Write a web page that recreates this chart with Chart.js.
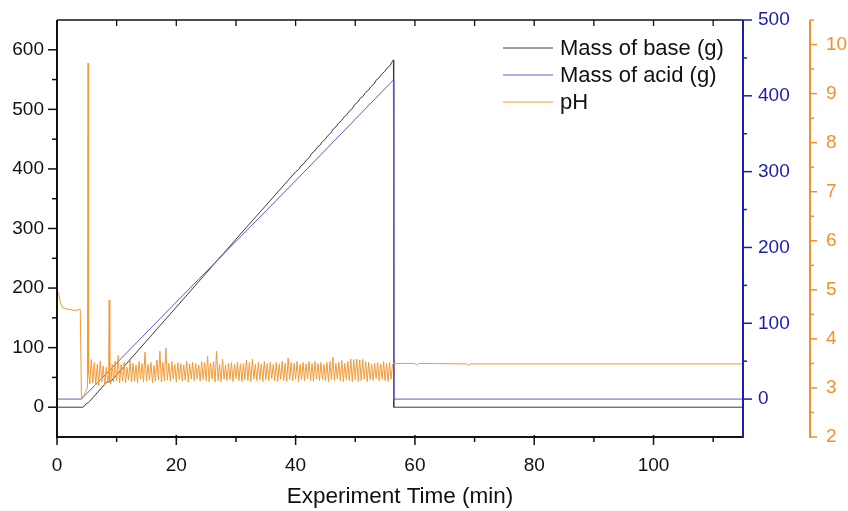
<!DOCTYPE html>
<html><head><meta charset="utf-8">
<script src="https://cdn.jsdelivr.net/npm/chart.js@4.4.1/dist/chart.umd.min.js"></script>
<style>html,body{margin:0;padding:0;background:#fff;}canvas{display:block;}</style>
</head><body>
<canvas id="c" width="848" height="511"></canvas>
<script>
// ---- data ----
const xTicks = [0, 20, 40, 60, 80, 100];
const baseTicks = [0, 100, 200, 300, 400, 500, 600];
const acidTicks = [0, 100, 200, 300, 400, 500];
const phTicks = [2, 3, 4, 5, 6, 7, 8, 9, 10];

const seriesNames = ['Mass of base (g)', 'Mass of acid (g)', 'pH'];

const baseTime = [0, 4.4, 4.9, 5.3, 8.3, 9.0, 20, 30,
  40.0, 40.5, 40.9, 41.4, 41.8, 42.3, 42.7, 43.2, 43.6, 44.1, 44.5, 45.0, 45.4, 45.9,
  46.3, 46.8, 47.2, 47.7, 48.1, 48.6, 49.0, 49.5, 49.9, 50.4, 50.8, 51.3, 51.7, 52.2,
  52.6, 53.1, 53.5, 54.0, 54.4, 54.9, 55.3, 55.8, 56.2, 56.4, 56.45, 115];
const baseMass = [0, 0, 6, 8, 42, 43, 168, 282,
  395, 399, 405, 409, 415, 419, 426, 430, 436, 440, 446, 450, 456, 460,
  467, 471, 477, 481, 487, 491, 497, 501, 508, 512, 518, 522, 528, 532,
  538, 542, 549, 553, 559, 563, 569, 573, 580, 583, 0, 0];

const acidTime = [0, 4.1, 20, 40, 56.4, 56.45, 115];
const acidMass = [0, 0, 128, 288, 421, 0, 0];

const phTime = [
  0, 0.3, 0.6, 1.0, 2.0, 3.0, 3.9, 4.1, 4.5, 4.9, 5.1, 5.2, 5.3,
  5.5, 5.75, 6.0, 6.25, 6.5, 6.75, 7.0, 7.25, 7.5, 7.75, 8.0, 8.25, 8.5, 8.65, 8.75, 8.85,
  9.0, 9.25, 9.5, 9.75, 10.0, 10.25, 10.5, 10.75,
  11.0, 11.25, 11.5, 11.75, 12.0, 12.25, 12.5, 12.75,
  13.0, 13.25, 13.5, 13.75, 14.0, 14.25, 14.5, 14.75,
  15.0, 15.25, 15.5, 15.75, 16.0, 16.25, 16.5, 16.75,
  17.0, 17.25, 17.5, 17.75, 18.0, 18.25, 18.5, 18.75,
  19.0, 19.25, 19.5, 19.75, 20.0, 20.25, 20.5, 20.75,
  21.0, 21.25, 21.5, 21.75, 22.0, 22.25, 22.5, 22.75,
  23.0, 23.25, 23.5, 23.75, 24.0, 24.25, 24.5, 24.75,
  25.0, 25.25, 25.5, 25.75, 26.0, 26.25, 26.5, 26.75,
  27.0, 27.25, 27.5, 27.75, 28.0, 28.25, 28.5, 28.75,
  29.0, 29.25, 29.5, 29.75, 30.0, 30.25, 30.5, 30.75,
  31.0, 31.25, 31.5, 31.75, 32.0, 32.25, 32.5, 32.75,
  33.0, 33.25, 33.5, 33.75, 34.0, 34.25, 34.5, 34.75,
  35.0, 35.25, 35.5, 35.75, 36.0, 36.25, 36.5, 36.75,
  37.0, 37.25, 37.5, 37.75, 38.0, 38.25, 38.5, 38.75,
  39.0, 39.25, 39.5, 39.75, 40.0, 40.25, 40.5, 40.75,
  41.0, 41.25, 41.5, 41.75, 42.0, 42.25, 42.5, 42.75,
  43.0, 43.25, 43.5, 43.75, 44.0, 44.25, 44.5, 44.75,
  45.0, 45.25, 45.5, 45.75, 46.0, 46.25, 46.5, 46.75,
  47.0, 47.25, 47.5, 47.75, 48.0, 48.25, 48.5, 48.75,
  49.0, 49.25, 49.5, 49.75, 50.0, 50.25, 50.5, 50.75,
  51.0, 51.25, 51.5, 51.75, 52.0, 52.25, 52.5, 52.75,
  53.0, 53.25, 53.5, 53.75, 54.0, 54.25, 54.5, 54.75,
  55.0, 55.25, 55.5, 55.75, 56.0, 56.25,
  56.45, 60.0, 60.3, 60.6, 68.7, 69.0, 69.3, 115
];
const phValue = [
  5.0, 4.9, 4.72, 4.63, 4.6, 4.58, 4.6, 2.8, 2.85, 2.95, 3.0, 9.62, 3.3,
  3.08, 3.58, 3.10, 3.52, 3.06, 3.48, 3.05, 3.55, 3.12, 3.45, 3.05, 3.42, 3.10, 3.25, 4.79, 3.15,
  3.08, 3.48, 3.12, 3.55, 3.15, 3.66, 3.10, 3.48,
  3.14, 3.52, 3.10, 3.42, 3.16, 3.56, 3.12, 3.50,
  3.14, 3.47, 3.10, 3.54, 3.18, 3.50, 3.12, 3.73,
  3.14, 3.48, 3.16, 3.52, 3.10, 3.46, 3.14, 3.57,
  3.16, 3.75, 3.12, 3.52, 3.14, 3.81, 3.16, 3.50,
  3.14, 3.54, 3.18, 3.48, 3.12, 3.52, 3.17, 3.50,
  3.14, 3.47, 3.16, 3.54, 3.12, 3.49, 3.18, 3.52,
  3.15, 3.50, 3.19, 3.47, 3.14, 3.54, 3.17, 3.52,
  3.15, 3.64, 3.13, 3.50, 3.18, 3.54, 3.12, 3.75,
  3.15, 3.48, 3.13, 3.59, 3.18, 3.47, 3.15, 3.50,
  3.17, 3.52, 3.13, 3.48, 3.19, 3.52, 3.15, 3.49,
  3.13, 3.50, 3.17, 3.57, 3.15, 3.52, 3.13, 3.59,
  3.18, 3.48, 3.15, 3.52, 3.17, 3.49, 3.13, 3.54,
  3.17, 3.50, 3.15, 3.52, 3.19, 3.48, 3.15, 3.52,
  3.13, 3.49, 3.18, 3.54, 3.15, 3.50, 3.13, 3.61,
  3.17, 3.52, 3.15, 3.50, 3.18, 3.54, 3.13, 3.48,
  3.17, 3.52, 3.15, 3.49, 3.19, 3.54, 3.15, 3.50,
  3.13, 3.54, 3.18, 3.50, 3.15, 3.52, 3.17, 3.48,
  3.15, 3.52, 3.13, 3.54, 3.17, 3.63, 3.15, 3.50,
  3.18, 3.52, 3.15, 3.56, 3.13, 3.50, 3.17, 3.54,
  3.15, 3.59, 3.13, 3.58, 3.17, 3.59, 3.13, 3.57,
  3.15, 3.58, 3.18, 3.54, 3.13, 3.52, 3.17, 3.48,
  3.15, 3.50, 3.19, 3.52, 3.15, 3.49, 3.18, 3.54,
  3.15, 3.50, 3.13, 3.52, 3.18, 3.48,
  3.50, 3.50, 3.46, 3.50, 3.49, 3.46, 3.49, 3.49
];

// ---- styling ----
const FONT = '"Liberation Sans", Arial, Helvetica, sans-serif';
const BLACK = '#111111';
const BLUE_AXIS = '#1c1cb0';
const ORANGE_AXIS = '#f0912c';
const BASE_COLOR = '#3c3c3c';
const ACID_COLOR = '#5a5ad2';
const PH_COLOR = '#f29a36';

const toPts = (xs, ys) => xs.map((t, i) => ({x: t, y: ys[i]}));
const setTicks = arr => scale => { scale.ticks = arr.map(v => ({value: v})); };
// tick marks are drawn by the plugin; tickLength only offsets the labels
const hiddenGrid = len => ({display: false, drawTicks: true, tickLength: len});

const decor = {
  id: 'decor',
  afterDatasetsDraw(chart) {
    const {ctx, chartArea: a, scales} = chart;
    const sx = scales.x, sl = scales.y, sb = scales.yAcid, so = scales.yPH;
    ctx.save();
    ctx.lineCap = 'butt';
    const line = (x1, y1, x2, y2, c, w) => {
      ctx.strokeStyle = c; ctx.lineWidth = w;
      ctx.beginPath(); ctx.moveTo(x1, y1); ctx.lineTo(x2, y2); ctx.stroke();
    };
    // top frame with inward ticks
    line(a.left, a.top, a.right, a.top, BLACK, 1.5);
    for (let v = 10; v < sx.max; v += 10) {
      const p = sx.getPixelForValue(v);
      line(p, a.top, p, a.top + 6, BLACK, 1.3);
    }
    // bottom axis
    line(a.left - 1, a.bottom, a.right, a.bottom, BLACK, 2);
    for (let v = 0; v < sx.max; v += 10) {
      const p = sx.getPixelForValue(v);
      line(p, a.bottom - (v % 20 === 0 ? 2 : 0), p, a.bottom + (v % 20 === 0 ? 8 : 5), BLACK, 1.5);
    }
    // left axis
    line(a.left, a.top, a.left, a.bottom + 1, BLACK, 2);
    for (let v = 0; v < sl.max; v += 50) {
      const p = sl.getPixelForValue(v);
      line(a.left, p, a.left - (v % 100 === 0 ? 9 : 5), p, BLACK, 1.5);
    }
    // blue right axis
    line(a.right, a.top, a.right, a.bottom + 1, BLUE_AXIS, 2);
    for (let v = 50; v <= sb.max; v += 50) {
      const p = sb.getPixelForValue(v);
      line(a.right, p, a.right + (v % 100 === 0 ? 9 : 4), p, BLUE_AXIS, 1.5);
    }
    line(a.right, sb.getPixelForValue(0), a.right + 9, sb.getPixelForValue(0), BLUE_AXIS, 1.5);
    // orange offset axis
    const ox = so.left;
    const oTop = so.getPixelForValue(10.5), oBot = so.getPixelForValue(2);
    line(ox, oTop, ox, oBot + 1, ORANGE_AXIS, 2);
    for (let v = 2; v <= 10.5; v += 0.5) {
      const p = so.getPixelForValue(v);
      const major = Math.abs(v - Math.round(v)) < 1e-6;
      line(ox, p, ox + (major ? 7 : 4), p, ORANGE_AXIS, 1.5);
    }
    // legend
    ctx.font = '22px ' + FONT;
    ctx.textBaseline = 'middle';
    ctx.textAlign = 'left';
    chart.data.datasets.forEach((ds, i) => {
      const y = 48 + i * 27;
      line(503, y, 553, y, ds.borderColor, 1);
      ctx.fillStyle = BLACK;
      ctx.fillText(ds.label, 560, y + 1);
    });
    ctx.restore();
  }
};

new Chart(document.getElementById('c'), {
  type: 'line',
  data: {
    datasets: [
      {label: seriesNames[0], data: toPts(baseTime, baseMass), yAxisID: 'y',
       borderColor: BASE_COLOR, borderWidth: 1, pointRadius: 0, tension: 0, order: 3},
      {label: seriesNames[1], data: toPts(acidTime, acidMass), yAxisID: 'yAcid',
       borderColor: ACID_COLOR, borderWidth: 1, pointRadius: 0, tension: 0, order: 2},
      {label: seriesNames[2], data: toPts(phTime, phValue), yAxisID: 'yPH',
       borderColor: PH_COLOR, borderWidth: 1, pointRadius: 0, tension: 0, order: 1}
    ]
  },
  options: {
    responsive: false,
    animation: false,
    devicePixelRatio: 1,
    layout: {padding: {top: 20, left: 0, right: 0, bottom: 0}},
    plugins: {legend: {display: false}, tooltip: {enabled: false}},
    scales: {
      x: {
        type: 'linear', position: 'bottom', min: 0, max: 115,
        grid: hiddenGrid(17), border: {display: false},
        afterBuildTicks: setTicks(xTicks),
        afterFit: s => { s.height = 74; },
        ticks: {font: {family: FONT, size: 19}, color: BLACK, padding: 0, maxRotation: 0, autoSkip: false},
        title: {display: true, text: 'Experiment Time (min)', color: BLACK,
                font: {family: FONT, size: 22.5}, padding: {top: 4, bottom: 1}}
      },
      y: {
        type: 'linear', position: 'left', min: -50, max: 650,
        grid: hiddenGrid(13), border: {display: false},
        afterBuildTicks: setTicks(baseTicks),
        afterFit: s => { s.width = 57; },
        ticks: {font: {family: FONT, size: 19}, color: BLACK, padding: 0}
      },
      yAcid: {
        type: 'linear', position: 'right', min: -50, max: 500,
        grid: hiddenGrid(15), border: {display: false},
        afterBuildTicks: setTicks(acidTicks),
        afterFit: s => { s.width = 67; },
        ticks: {font: {family: FONT, size: 19}, color: BLUE_AXIS, padding: 0}
      },
      yPH: {
        type: 'linear', position: 'right', min: 2, max: 10.5,
        grid: hiddenGrid(16), border: {display: false},
        afterBuildTicks: setTicks(phTicks),
        afterFit: s => { s.width = 38; },
        ticks: {font: {family: FONT, size: 19}, color: ORANGE_AXIS, padding: 0}
      }
    }
  },
  plugins: [decor]
});
</script>
</body></html>
